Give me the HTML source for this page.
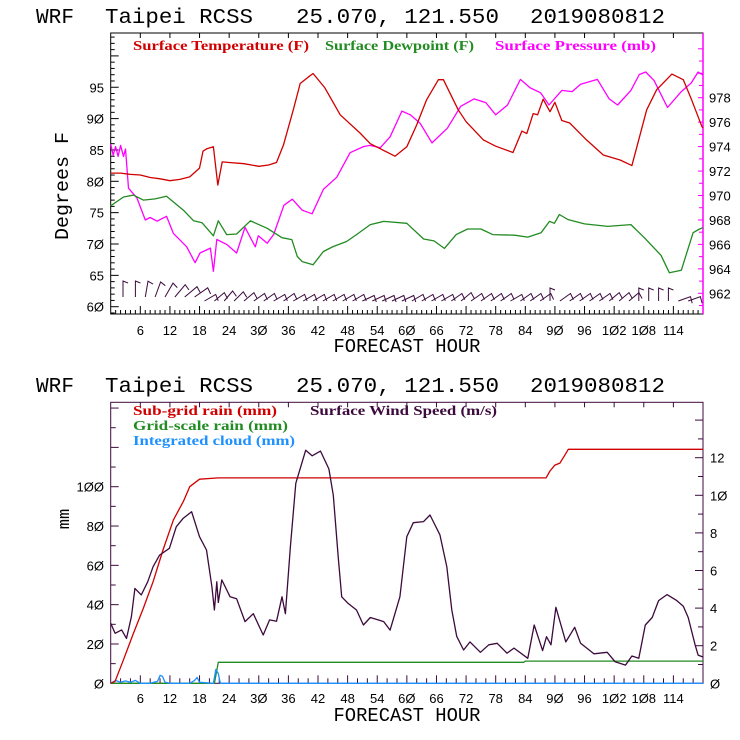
<!DOCTYPE html>
<html><head><meta charset="utf-8"><style>
html,body{margin:0;padding:0;background:#fff;}
svg{display:block;}
text{font-family:"Liberation Sans",sans-serif;}
.ttl{font-family:"Liberation Mono",monospace;font-size:21px;fill:#000;}
.tk{font-size:13px;fill:#000;}
.lg{font-family:"Liberation Serif",serif;font-size:14px;font-weight:bold;}
</style></head><body>
<svg id="c" width="740" height="740" viewBox="0 0 740 740"></svg>
<script>
// ---------- data ----------
const tempH=[0,2,4,6,8,10,12,14,16,18,18.7,19.5,20.8,21.7,22.6,24,27,30,32,33.6,35,37,38.4,40,41,43.4,46.5,50.5,52.6,54.6,57.6,60,62,64,66.4,67.4,70.4,72,75.5,78,81.5,83.3,84.3,85.6,86.5,87.6,89,90,91.4,93,96.4,99.8,103.2,105.6,108.6,110.6,113.7,116,117.7,119.8,120];
const tempV=[81.3,81.3,81.1,81.0,80.6,80.4,80.1,80.3,80.7,82.1,84.8,85.2,85.5,79.4,83.1,83.0,82.8,82.4,82.6,83.0,85.8,91.4,95.6,96.6,97.2,94.9,90.6,87.7,86.0,85.2,84.0,85.5,89,93,96.2,96.2,91.4,89.5,86.6,85.6,84.6,88.0,87.6,90.8,90.6,93.1,91.1,92.6,89.7,89.3,86.6,84.2,83.4,82.5,91.4,94.6,97.1,96.2,93.0,88.7,88.5];
const dewH=[0,2.6,4.6,6.6,9,11.3,14.7,16.8,18.5,20.8,21.8,23.5,25.5,28.3,31.7,34.7,36.7,37.8,38.8,41,43.1,45.1,47.8,49.8,52.6,55.3,60,63.4,65.5,67.6,70,72.3,75,77.4,81.8,84.5,87.2,88.9,89.9,90.9,92.6,96,100.7,105.4,108.1,111.5,113.2,115.6,118,119.3,120];
const dewV=[76.1,77.5,77.8,77.0,77.2,77.6,75.4,73.7,73.4,71.3,73.7,71.5,71.6,73.7,72.5,71.0,70.7,68.0,67.2,66.7,68.8,69.6,70.4,71.5,73.1,73.6,73.3,70.8,70.5,69.3,71.5,72.4,72.4,71.5,71.4,71.1,71.8,73.6,73.3,74.7,73.9,73.2,72.8,73.1,71.0,68.2,65.4,65.8,71.8,72.4,72.6];
const presH=[0,0.5,1,1.5,2,2.6,3,3.6,5.3,7,8,9.4,11.3,12.7,15.4,17.1,18.1,20.2,20.8,21.5,23.5,25.5,27.2,29.3,29.9,31.7,33,35.1,36.8,38.8,40.8,43.1,45.8,48.5,51.2,52.5,54.6,56.6,59,60.7,62.7,65.1,68.2,70.9,73.6,76,78,80.4,83,85,87.1,88.8,91.4,93.5,95.2,98.6,101,102.7,105.4,107.1,108.4,110.1,112.8,115.6,117.6,119,119.8,120];
const presV=[974.2,973.3,974.0,973.2,974.1,973.2,973.8,970.6,969.8,968.0,968.2,967.9,968.3,966.9,965.8,964.5,965.3,965.7,963.8,966.4,966.0,965.3,967.4,965.8,966.7,966.1,966.8,969.2,969.7,968.8,968.5,970.5,971.5,973.5,974.0,974.1,973.9,974.8,976.9,976.6,975.9,974.3,975.5,977.3,977.9,977.6,976.6,977.4,979.5,978.8,978.4,977.4,978.6,978.5,979.1,979.5,977.9,977.4,978.6,979.9,980.1,979.4,977.2,978.5,979.2,980.1,979.9,980.0];
const windH=[0,0.9,2.2,3.2,4.2,4.9,6.2,7.5,8.6,9.9,11.9,13.3,14.7,16.4,18,19.4,20.5,21,21.5,21.8,22.5,24.2,25.5,27.2,28.9,30.9,32.2,33.6,34.7,35.4,36.4,37.5,39.5,40.8,42.5,44.2,45.1,46.1,46.8,48.1,49.8,51.2,52.6,55.3,56.6,58.6,60,61.3,63.4,64.7,66.7,68.1,69.1,70.1,71.5,72.8,74.9,76.6,78.3,80.3,81.7,84.5,85.8,87.5,88.3,89.2,90.2,92.2,94,95.2,97.9,100.6,102.2,104.3,105.6,107,108.3,109.7,111,112.7,114.7,116,117,118.4,119,120];
const windV=[3.19,2.66,2.84,2.39,3.54,5.05,4.70,5.40,6.2,6.82,7.18,8.33,8.78,9.13,7.8,7.09,5.14,3.9,5.4,4.3,5.5,4.6,4.5,3.28,3.7,2.57,3.37,3.3,4.6,3.7,7.27,10.64,12.4,12.1,12.35,11.4,10.0,6.73,4.6,4.25,3.9,3.1,3.5,3.28,2.83,4.6,7.8,8.54,8.6,8.95,7.9,6.2,3.9,2.5,1.77,2.2,1.65,2.05,2.13,1.6,1.87,1.33,3.1,1.74,2.48,2.05,4.04,2.2,2.98,2.13,1.57,1.65,1.15,0.97,1.45,1.33,3.1,3.5,4.4,4.72,4.4,4.1,3.5,2.05,1.5,1.4];
const subH=[0,0.9,2.6,4.6,6.6,8.6,10.6,12.7,14.7,16,18,21.8,88.2,89,90,91,92,92.7,120];
const subV=[0,1,12,25.4,38.1,51.7,67.8,83.1,92.4,100,103.8,104.5,104.5,108,111,112,116,119,119];
const gridH=[0,21,21.8,83.7,84,120];
const gridV=[0,0,10.7,10.7,11.3,11.3];
const cloudH=[0,1,2,3,4,5,6,8,9.5,10,10.5,11,12,16,17,17.5,18,20.8,21.3,21.8,22.2,24,120];
const cloudV=[0,1.5,0.5,1.2,0.5,1.5,0,0,1,4,3.5,0.5,0,0,1.5,3,0.5,0,7,5,0,0,0];
const barbH=[2.5,5,7,9,11,13,15,17,19,21,23,25,27,29,31,33,35,37,39,41,43,45,47,49,51,53,55,57,59,61,63,65,67,69,71,73,75,77,79,81,83,85,87,89,91,93,95,97,99,101,103,105,107,109,111,113,115,117];
const barbAng=[90,90,80,70,60,50,40,35,30,40,50,45,40,35,35,30,35,30,30,30,30,30,30,30,25,25,25,25,25,30,30,30,30,35,40,35,35,35,35,30,35,35,35,90,35,35,35,35,35,40,40,40,90,90,90,90,20,20];
const leftTicksTop=[60,65,70,75,80,85,90,95];
const presTicks=[962,964,966,968,970,972,974,976,978];
const xTicks=[6,12,18,24,30,36,42,48,54,60,66,72,78,84,90,96,102,108,114];
const mmTicks=[0,20,40,60,80,100];
const windTicks=[0,2,4,6,8,10,12];

// ---------- helpers ----------
const svg=document.getElementById('c');
const NS='http://www.w3.org/2000/svg';
function mk(tag,attrs,parent){const e=document.createElementNS(NS,tag);for(const k in attrs)e.setAttribute(k,attrs[k]);(parent||svg).appendChild(e);return e;}
const X0=110.7,X1=703;
const xs=h=>X0+h*(X1-X0)/120;
const yT=v=>306.7-(v-60)*6.27;
const yP=p=>293.3-(p-962)*12.225;
const yMM=v=>683.3-v*1.966;
const yW=w=>683.3-w*18.8;
function line(hs,vs,yf,color,name){
  let d='';hs.forEach((h,i)=>{d+=(i?'L':'M')+xs(h).toFixed(1)+' '+yf(vs[i]).toFixed(1);});
  const p=mk('path',{d:d,fill:'none',stroke:color,'stroke-width':1.3,'stroke-linejoin':'round'});
  
  
}
function txt(x,y,s,cls,anchor,fill,extra){
  const t=mk('text',Object.assign({x:x,y:y,class:cls,'text-anchor':anchor||'start'},fill?{fill:fill}:{},extra||{}));
  t.textContent=s;return t;
}

// ---------- titles ----------
[[ [36,23],[105,23],[296,23],[530,23] ],[ [36,392],[105,392],[296,392],[530,392] ]].forEach((pos,k)=>{
  const parts=['WRF','Taipei RCSS','25.070, 121.550','2019080812'];
  const lens=[38,148,203,135];
  parts.forEach((s,i)=>{const t=txt(pos[i][0],pos[i][1],s,'ttl','start',null,{textLength:lens[i],lengthAdjust:'spacingAndGlyphs'});
    
    });
});

// ---------- top chart ----------
const TT=33,TB=314;
mk('rect',{x:X0,y:TT,width:X1-X0,height:TB-TT,fill:'none',stroke:'#000','stroke-width':1});
mk('line',{x1:X1,y1:TT,x2:X1,y2:TB,stroke:'#f0f','stroke-width':1.5});
for(let v=59;v<=103;v++){const y=yT(v);if(y<TT||y>TB)continue;mk('line',{x1:X0,y1:y,x2:X0+(v%5==0?8:4),y2:y,stroke:'#000'});}
leftTicksTop.forEach(v=>{const t=txt(104,yT(v)+5,String(v).replace(/0/g,'Ø'),'tk','end');});
for(let p=961;p<=982;p++){const y=yP(p);if(y<TT||y>TB)continue;mk('line',{x1:X1,y1:y,x2:X1-(p%2==0?5:4),y2:y,stroke:'#f0f'});}
presTicks.forEach(p=>{const t=txt(709,yP(p)+5,String(p),'tk','start');});
for(let h=1;h<120;h++){mk('line',{x1:xs(h),y1:TB,x2:xs(h),y2:TB-(h%6==0?8:4),stroke:'#000'});if(h%6==0)mk('line',{x1:xs(h),y1:TT,x2:xs(h),y2:TT+5,stroke:'#000'});}
xTicks.forEach(h=>{const t=txt(xs(h),335,String(h).replace(/0/g,'Ø'),'tk','middle');});
let t=txt(407,352,'FORECAST HOUR','ttl','middle',null,{style:'font-size:19px',textLength:147,lengthAdjust:'spacingAndGlyphs'});
t=txt(0,0,'Degrees F','ttl','middle',null,{transform:'translate(68,186) rotate(-90)',style:'font-size:19px',textLength:108,lengthAdjust:'spacingAndGlyphs'});
t=txt(133,50,'Surface Temperature (F)','lg','start','#d00000',{textLength:176,lengthAdjust:'spacingAndGlyphs'});
t=txt(325,50,'Surface Dewpoint (F)','lg','start','#228b22',{textLength:149,lengthAdjust:'spacingAndGlyphs'});
t=txt(495,50,'Surface Pressure (mb)','lg','start','#ff00ff',{textLength:161,lengthAdjust:'spacingAndGlyphs'});
line(presH,presV,yP,'#ff00ff','pressure-line');
line(dewH,dewV,yT,'#228b22','dewpoint-line');
line(tempH,tempV,yT,'#d00000','temperature-line');
// wind barbs
barbH.forEach((h,i)=>{
  const a=barbAng[i]*Math.PI/180, x=xs(h), y=i<8?297:301, L=i<8?16:13;
  const x2=x+L*Math.cos(a), y2=y-L*Math.sin(a);
  const bx=x2+5*Math.cos(a-Math.PI/2), by=y2-5*Math.sin(a-Math.PI/2)+2;
  const g=mk('path',{d:`M${x.toFixed(1)} ${y}L${x2.toFixed(1)} ${y2.toFixed(1)}L${bx.toFixed(1)} ${by.toFixed(1)}`,fill:'none',stroke:'#3c0a3c','stroke-width':1});
  
  
});

// ---------- bottom chart ----------
const BT=402.3,BB=683.3;
mk('rect',{x:X0,y:BT,width:X1-X0,height:BB-BT,fill:'none',stroke:'#3c0a3c','stroke-width':1});
for(let v=0;v<=140;v+=10){const y=yMM(v);if(y<BT)continue;mk('line',{x1:X0,y1:y,x2:X0+(v%20==0?8:5),y2:y,stroke:'#3c0a3c'});}
mmTicks.forEach(v=>{const t=txt(104,yMM(v)+5,String(v).replace(/0/g,'Ø'),'tk','end');});
for(let w=0;w<=14;w++){const y=yW(w);if(y<BT)continue;mk('line',{x1:X1,y1:y,x2:X1-(w%2==0?8:5),y2:y,stroke:'#3c0a3c'});}
windTicks.forEach(w=>{const t=txt(710,yW(w)+5,String(w).replace(/0/g,'Ø'),'tk','start');});
for(let h=2;h<120;h+=2){mk('line',{x1:xs(h),y1:BB,x2:xs(h),y2:BB-(h%6==0?8:5),stroke:'#3c0a3c'});if(h%6==0)mk('line',{x1:xs(h),y1:BT,x2:xs(h),y2:BT+5,stroke:'#3c0a3c'});}
xTicks.forEach(h=>{const t=txt(xs(h),703,String(h).replace(/0/g,'Ø'),'tk','middle');});
t=txt(407,721,'FORECAST HOUR','ttl','middle',null,{style:'font-size:19px',textLength:147,lengthAdjust:'spacingAndGlyphs'});
t=txt(0,0,'mm','ttl','middle',null,{transform:'translate(69,519) rotate(-90)',style:'font-size:17px'});
t=txt(133,415,'Sub-grid rain (mm)','lg','start','#d00000',{textLength:144,lengthAdjust:'spacingAndGlyphs'});
t=txt(310,415,'Surface Wind Speed (m/s)','lg','start','#3c0a3c',{textLength:187,lengthAdjust:'spacingAndGlyphs'});
t=txt(133,430,'Grid-scale rain (mm)','lg','start','#228b22',{textLength:155,lengthAdjust:'spacingAndGlyphs'});
t=txt(133,445,'Integrated cloud (mm)','lg','start','#1e90ff',{textLength:162,lengthAdjust:'spacingAndGlyphs'});
line(gridH,gridV,yMM,'#228b22','grid-rain-line');
line(cloudH,cloudV,yMM,'#1e90ff','cloud-line');
line(subH,subV,yMM,'#d00000','subgrid-rain-line');
line(windH,windV,yW,'#3c0a3c','wind-speed-line');
</script>
</body></html>
